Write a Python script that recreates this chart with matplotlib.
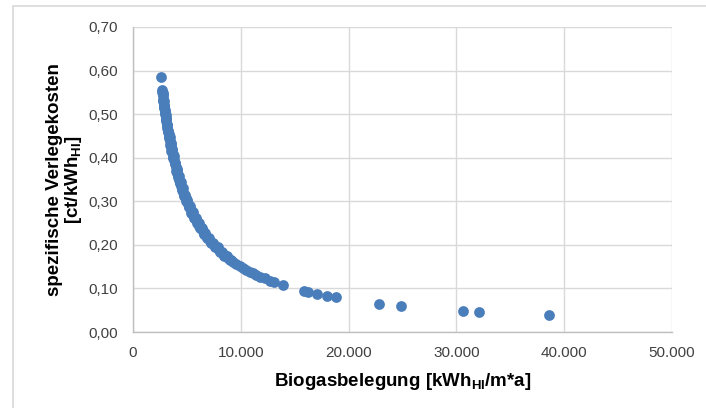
import matplotlib
matplotlib.use("Agg")
import matplotlib.pyplot as plt
from matplotlib.patches import Rectangle
from matplotlib.ticker import FuncFormatter, MultipleLocator

# Biogasbelegung [kWh_HI/m*a] und spezifische Verlegekosten [ct/kWh_HI]
belegung = [
    2600, 2700, 2720, 2750, 2780, 2820, 2870, 2900, 2940, 2980,
    3020, 3060, 3100, 3150, 3200, 3250, 3300, 3360, 3420, 3480,
    3540, 3600, 3670, 3740, 3810, 3880, 3960, 4040, 4120, 4200,
    4290, 4380, 4470, 4570, 4670, 4770, 4880, 4990, 5100, 5220,
    5340, 5470, 5600, 5730, 5870, 6010, 6160, 6310, 6470, 6630,
    6800, 6970, 7150, 7340, 7530, 7730, 7940, 8150, 8370, 8600,
    8840, 9080, 9280, 9600, 9900, 10200, 10500, 10850, 11100, 11400,
    11800, 12200, 12700, 13100, 13900,
    15860, 16230, 17070, 18000, 18830, 22820, 24860, 30610, 32100, 38590,
    # dichte Punkte im steilen Kurventeil
    2760, 2800, 2850, 2890, 2920, 2960, 3000, 3040, 3080, 3130,
    3180, 3230, 3280, 3330, 3390, 3450, 3510, 3570, 3630, 3700,
    3770, 3850, 3920, 4000, 4080, 4160, 4250, 4330, 4420, 4520,
    4620, 4720, 4830, 4940, 5050, 5160, 5280, 5400, 5540, 5660,
    5800, 5940, 6080, 6230, 6390, 6550, 6710, 6880, 7060, 7240,
    7430, 7630, 7840, 8050, 8260, 8480, 8720, 8960,
]
kosten = [
    0.585, 0.556, 0.551, 0.547, 0.541, 0.532, 0.522, 0.517, 0.510, 0.503,
    0.497, 0.490, 0.484, 0.476, 0.469, 0.462, 0.455, 0.447, 0.439, 0.431,
    0.424, 0.417, 0.409, 0.401, 0.394, 0.387, 0.379, 0.371, 0.364, 0.357,
    0.350, 0.342, 0.336, 0.328, 0.321, 0.314, 0.307, 0.301, 0.294, 0.287,
    0.281, 0.274, 0.268, 0.262, 0.256, 0.250, 0.244, 0.238, 0.232, 0.226,
    0.221, 0.215, 0.210, 0.204, 0.199, 0.194, 0.189, 0.184, 0.179, 0.174,
    0.170, 0.165, 0.161, 0.156, 0.151, 0.147, 0.143, 0.138, 0.135, 0.131,
    0.127, 0.123, 0.118, 0.114, 0.108,
    0.094, 0.092, 0.087, 0.083, 0.080, 0.065, 0.060, 0.049, 0.047, 0.039,
    0.548, 0.530, 0.530, 0.515, 0.518, 0.500, 0.505, 0.488, 0.492, 0.475,
    0.476, 0.459, 0.462, 0.446, 0.448, 0.430, 0.433, 0.416, 0.419, 0.400,
    0.403, 0.385, 0.389, 0.370, 0.373, 0.356, 0.358, 0.341, 0.344, 0.327,
    0.330, 0.313, 0.315, 0.300, 0.302, 0.287, 0.289, 0.274, 0.275, 0.261,
    0.262, 0.250, 0.250, 0.238, 0.238, 0.226, 0.227, 0.215, 0.216, 0.204,
    0.205, 0.194, 0.194, 0.184, 0.184, 0.174, 0.175, 0.165,
]

plt.rcParams["font.family"] = ["Liberation Sans", "DejaVu Sans"]
plt.rcParams["mathtext.fontset"] = "custom"
plt.rcParams["mathtext.rm"] = "Liberation Sans"
plt.rcParams["mathtext.bf"] = "Liberation Sans:bold"

fig = plt.figure(figsize=(7.06, 4.08), dpi=100)
fig.patch.set_facecolor("white")
# Rahmen um den Diagrammbereich (wie in Excel)
fig.patches.append(Rectangle((13 / 706, -0.05), 1.0, 1.05 - 6 / 408,
                             transform=fig.transFigure, fill=False,
                             edgecolor="#d9d9d9", linewidth=1.2))

ax = fig.add_axes([133 / 706, 76 / 408, 539 / 706, 305 / 408])
ax.scatter(belegung, kosten, s=60, color="#4a7ebb", linewidths=0, zorder=3)

ax.set_xlim(0, 50000)
ax.set_ylim(0, 0.70)
ax.xaxis.set_major_locator(MultipleLocator(10000))
ax.yaxis.set_major_locator(MultipleLocator(0.10))
ax.xaxis.set_major_formatter(FuncFormatter(lambda v, _: f"{int(v):,}".replace(",", ".")))
ax.yaxis.set_major_formatter(FuncFormatter(lambda v, _: f"{v:.2f}".replace(".", ",")))

ax.grid(True, color="#d9d9d9", linewidth=1.0)
ax.set_axisbelow(True)
for side in ["top", "right"]:
    ax.spines[side].set_visible(False)
for side in ["left", "bottom"]:
    ax.spines[side].set_color("#bfbfbf")
    ax.spines[side].set_linewidth(1.0)
ax.tick_params(axis="both", length=0, labelsize=11, colors="#404040")
ax.tick_params(axis="y", pad=11)
ax.tick_params(axis="x", pad=10)

ax.set_xlabel(r"Biogasbelegung [kWh$_\mathbf{HI}$/m*a]", fontsize=13.5,
              fontweight="bold", labelpad=8)
ax.set_ylabel("spezifische Verlegekosten\n" + r"[ct/kWh$_\mathbf{HI}$]", fontsize=13.5,
              fontweight="bold", labelpad=3, linespacing=1.0)

fig.savefig("out.png", dpi=100)
